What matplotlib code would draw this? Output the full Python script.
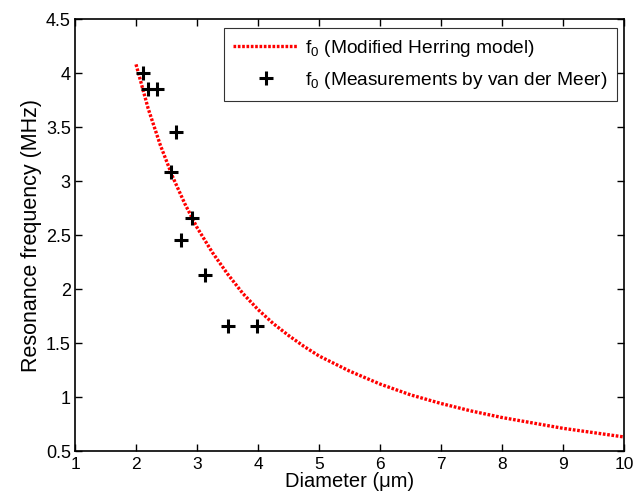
import matplotlib
matplotlib.use("Agg")
import matplotlib.pyplot as plt

plt.rcParams['font.family'] = ['Liberation Sans', 'DejaVu Sans']
plt.rcParams['mathtext.fontset'] = 'custom'
plt.rcParams['mathtext.rm'] = 'Liberation Sans'

# modified Herring model curve
model_d = [2.0, 2.2, 2.4, 2.6, 2.8, 3.0, 3.25, 3.5, 3.75, 4.0, 4.25, 4.5, 4.75,
           5.0, 5.5, 6.0, 6.5, 7.0, 7.5, 8.0, 8.5, 9.0, 9.5, 10.0]
model_f = [4.08, 3.67, 3.33, 3.04, 2.79, 2.57, 2.34, 2.14, 1.96, 1.81, 1.68, 1.57, 1.47,
           1.38, 1.24, 1.12, 1.02, 0.94, 0.87, 0.81, 0.76, 0.71, 0.67, 0.63]

# measurements by van der Meer
meas_d = [2.12, 2.20, 2.34, 2.66, 2.57, 2.91, 2.74, 3.13, 3.50, 3.98]
meas_f = [4.00, 3.85, 3.85, 3.45, 3.08, 2.66, 2.45, 2.13, 1.66, 1.66]

fig = plt.figure(figsize=(6.36, 4.97), dpi=100)
ax = fig.add_axes([75 / 636, 1 - 451 / 497, (624 - 75) / 636, (451 - 19) / 497])

ax.plot(model_d, model_f, color='red', lw=2.4, linestyle=(0, (0.8, 0.5)),
        label=r'$\mathregular{f_0}$ (Modified Herring model)')
ax.plot(meas_d, meas_f, linestyle='none', marker='+', color='black',
        markersize=10, markeredgewidth=2.2,
        label=r'$\mathregular{f_0}$ (Measurements by van der Meer)')

ax.set_xlim(1, 10)
ax.set_ylim(0.5, 4.5)
ax.set_xticks(range(1, 11))
ax.set_yticks([0.5, 1, 1.5, 2, 2.5, 3, 3.5, 4, 4.5])
ax.set_yticklabels(['0.5', '1', '1.5', '2', '2.5', '3', '3.5', '4', '4.5'])
ax.tick_params(direction='in', top=True, right=True, length=5, width=1,
               labelsize=13)
ax.tick_params(axis='x', pad=4, labelsize=12.5)
ax.tick_params(axis='y', pad=3)
for s in ax.spines.values():
    s.set_linewidth(1.2)

ax.set_xlabel('Diameter (\u03bcm)', fontsize=14.5, labelpad=0)
ax.set_ylabel('Resonance frequency (MHz)', fontsize=15.5, labelpad=3)

leg = ax.legend(loc='upper right', bbox_to_anchor=(617 / 636, 1 - 28 / 497),
                bbox_transform=fig.transFigure, borderaxespad=0,
                fontsize=13.8, frameon=True, fancybox=False,
                handlelength=3.4, handletextpad=0.35, borderpad=0.5,
                labelspacing=0.6)
leg.get_frame().set_edgecolor('black')
leg.get_frame().set_linewidth(0.8)

fig.savefig('out.png', dpi=100)
